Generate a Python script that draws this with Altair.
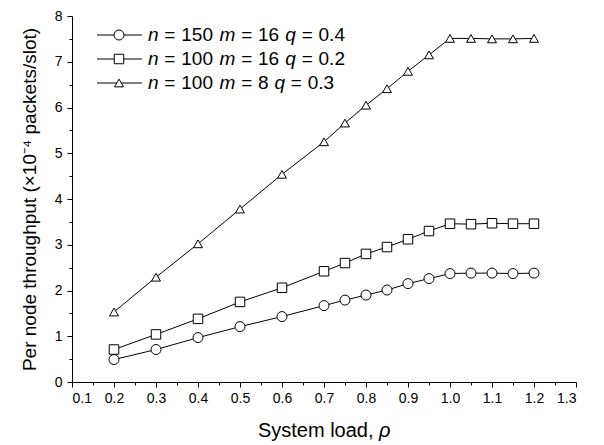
import altair as alt
import pandas as pd

# ---------------- data ----------------
rho = [0.2, 0.3, 0.4, 0.5, 0.6, 0.7, 0.75, 0.8, 0.85, 0.9, 0.95, 1.0, 1.05, 1.1, 1.15, 1.2]
s_n150_m16 = [0.49, 0.71, 0.97, 1.21, 1.43, 1.67, 1.79, 1.90, 2.01, 2.15, 2.26, 2.37, 2.38, 2.38, 2.37, 2.38]
s_n100_m16 = [0.71, 1.04, 1.38, 1.75, 2.06, 2.42, 2.60, 2.80, 2.95, 3.12, 3.30, 3.46, 3.45, 3.47, 3.46, 3.46]
s_n100_m8 = [1.53, 2.29, 3.02, 3.78, 4.54, 5.25, 5.66, 6.05, 6.41, 6.79, 7.15, 7.51, 7.51, 7.50, 7.50, 7.51]

series_names = ["n = 150 m = 16 q = 0.4", "n = 100 m = 16 q = 0.2", "n = 100 m = 8 q = 0.3"]
series_values = [s_n150_m16, s_n100_m16, s_n100_m8]
shapes = ["circle", "square", "triangle-up"]
sizes = [100, 80, 140]

x_ticks = [0.1, 0.2, 0.3, 0.4, 0.5, 0.6, 0.7, 0.8, 0.9, 1.0, 1.1, 1.2, 1.3]
y_ticks = [0, 1, 2, 3, 4, 5, 6, 7, 8]
x_title = ["System load, ", "ρ"]
y_title = "Per node throughput (×10⁻⁴ packets/slot)"

# ---------------- tables ----------------
rows = []
for name, vals in zip(series_names, series_values):
    for r, v in zip(rho, vals):
        rows.append({"rho": r, "thr": v, "series": name})
df = pd.DataFrame(rows)

# minor ticks half way between majors
x_all = sorted(set(x_ticks + [round((a + b) / 2, 3) for a, b in zip(x_ticks[:-1], x_ticks[1:])]))
y_all = sorted(set(y_ticks + [(a + b) / 2 for a, b in zip(y_ticks[:-1], y_ticks[1:])]))

FONT = "Liberation Sans"
W, H = 504, 366

shape_scale = alt.Scale(domain=series_names, range=shapes)
size_scale = alt.Scale(domain=series_names, range=sizes)

x_enc = alt.X(
    "rho:Q",
    scale=alt.Scale(domain=[0.1, 1.3], nice=False, zero=False),
    axis=alt.Axis(
        values=x_all,
        labelExpr="abs(round(datum.value*10) - datum.value*10) < 0.01 ? format(datum.value, '.1f') : ''",
        tickSize={"condition": {"test": "abs(round(datum.value*10) - datum.value*10) < 0.01", "value": 5}, "value": 3},
        title=None,
        labelPadding=4,
    ),
)
y_enc = alt.Y(
    "thr:Q",
    scale=alt.Scale(domain=[0, 8], nice=False),
    axis=alt.Axis(
        values=y_all,
        labelExpr="abs(round(datum.value) - datum.value) < 0.01 ? format(datum.value, 'd') : ''",
        tickSize={"condition": {"test": "abs(round(datum.value) - datum.value) < 0.01", "value": 5}, "value": 3},
        title=y_title,
        titlePadding=15,
        titleFontSize=19,
        labelPadding=5,
    ),
)

lines = alt.Chart(df).mark_line(color="black", strokeWidth=1).encode(
    x=x_enc, y=y_enc, detail="series:N"
)
points = alt.Chart(df).mark_point(filled=True, fill="white", stroke="black", strokeWidth=1, opacity=1).encode(
    x=x_enc, y=y_enc,
    shape=alt.Shape("series:N", scale=shape_scale, legend=None),
    size=alt.Size("series:N", scale=size_scale, legend=None),
)
data_layer = alt.layer(lines, points)

# ---------------- hand-made legend (italic variable names) ----------------
LEG_Y0, LEG_DY = 19, 24
LEG_X0, LEG_X1, LEG_XM, LEG_XT = 25, 70, 47, 76
LEG_FS = 19
LEG_EM = 19.6
adv = {" ": 278, "=": 584, ".": 278, "n": 556, "m": 833, "q": 556}
for d in "0123456789":
    adv[d] = 556

leg_rows, seg_rows = [], []
for i, name in enumerate(series_names):
    py = LEG_Y0 + i * LEG_DY
    leg_rows.append({"series": name, "py": py})
    xpos = LEG_XT
    for tok in name.split(" "):
        seg_rows.append({"txt": tok, "px": xpos, "py": py,
                         "sty": "italic" if tok in ("n", "m", "q") else "normal"})
        xpos += (sum(adv[c] for c in tok) + adv[" "]) * LEG_EM / 1000.0

# x-axis title built from two runs so that rho can be italic
TITLE_FS = 20
title_w0 = 6058 * TITLE_FS / 1000.0
title_x0 = W / 2 - (title_w0 + 11) / 2
seg_rows.append({"txt": x_title[0].strip(), "px": title_x0, "py": H + 55, "sty": "title"})
seg_rows.append({"txt": x_title[1], "px": title_x0 + title_w0, "py": H + 55, "sty": "title_i"})

leg = pd.DataFrame(leg_rows)
seg = pd.DataFrame(seg_rows)

leg_line = alt.Chart(leg).mark_rule(color="black", strokeWidth=1).encode(
    x=alt.value(LEG_X0), x2=alt.value(LEG_X1), y=alt.Y("py:Q", scale=None, axis=None)
)
leg_pts = alt.Chart(leg).mark_point(filled=True, fill="white", stroke="black", strokeWidth=1, opacity=1).encode(
    x=alt.value(LEG_XM), y=alt.Y("py:Q", scale=None, axis=None),
    shape=alt.Shape("series:N", scale=shape_scale, legend=None),
    size=alt.Size("series:N", scale=size_scale, legend=None),
)


def seg_text(style, size, italic, baseline):
    kw = dict(align="left", baseline=baseline, font=FONT, fontSize=size, color="black")
    if italic:
        kw["fontStyle"] = "italic"
    return alt.Chart(seg).transform_filter(f"datum.sty == '{style}'").mark_text(**kw).encode(
        x=alt.X("px:Q", scale=None, axis=None), y=alt.Y("py:Q", scale=None, axis=None), text="txt:N"
    )


txt_layers = [
    seg_text("normal", LEG_FS, False, "middle"),
    seg_text("italic", LEG_FS, True, "middle"),
    seg_text("title", TITLE_FS, False, "alphabetic"),
    seg_text("title_i", TITLE_FS, True, "alphabetic"),
]

chart = alt.layer(data_layer, leg_line, leg_pts, *txt_layers).resolve_scale(
    x="independent", y="independent"
).properties(
    width=W, height=H,
    autosize="none",
    padding={"left": 64, "top": 8, "right": 20, "bottom": 63},
    background="white",
).configure_view(stroke=None).configure_axis(
    grid=False, domainColor="black", tickColor="black", labelColor="black", titleColor="black",
    labelFont=FONT, titleFont=FONT, labelFontSize=14, titleFontSize=TITLE_FS, titleFontWeight="normal",
    domainWidth=1, tickWidth=1,
)

chart.save("out.html", embed_options={"renderer": "svg", "actions": False})
